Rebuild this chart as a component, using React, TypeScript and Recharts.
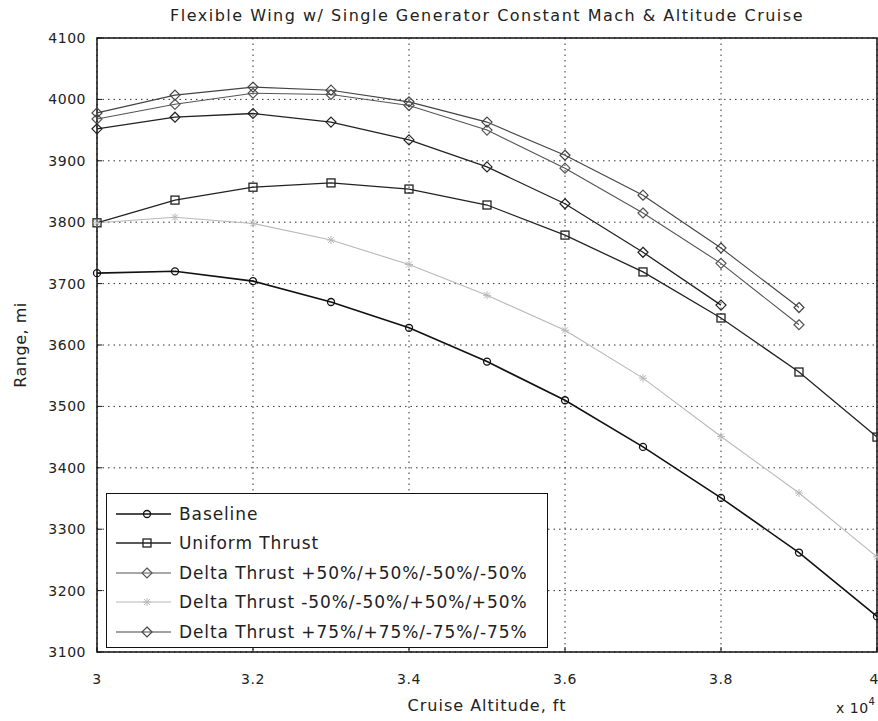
import React from 'react';
import { LineChart, Line, XAxis, YAxis, CartesianGrid, Legend, ReferenceArea } from 'recharts';

// cruise altitude in units of 10^4 ft
const altitude = [3.0, 3.1, 3.2, 3.3, 3.4, 3.5, 3.6, 3.7, 3.8, 3.9, 4.0];

// range, mi
const baseline = [3717, 3720, 3704, 3670, 3628, 3573, 3510, 3434, 3351, 3262, 3158];
const uniformThrust = [3799, 3836, 3857, 3864, 3854, 3828, 3779, 3719, 3644, 3556, 3450];
const deltaPlus50 = [3968, 3992, 4010, 4008, 3990, 3950, 3888, 3815, 3733, 3633, null];
const deltaMinus50 = [3799, 3808, 3798, 3771, 3731, 3681, 3624, 3546, 3451, 3359, 3255];
const deltaPlus75 = [3978, 4007, 4020, 4015, 3996, 3963, 3909, 3844, 3758, 3661, null];
const extraCase = [3952, 3971, 3977, 3963, 3934, 3890, 3830, 3751, 3665, null, null];

const rangeTicks = [3100, 3200, 3300, 3400, 3500, 3600, 3700, 3800, 3900, 4000, 4100];
const altitudeTicks = [3, 3.2, 3.4, 3.6, 3.8, 4];

const data = altitude.map((alt, i) => ({
    alt,
    baseline: baseline[i],
    uniform: uniformThrust[i],
    dp50: deltaPlus50[i],
    dm50: deltaMinus50[i],
    dp75: deltaPlus75[i],
    extra: extraCase[i],
}));

const FONT = '"DejaVu Sans", sans-serif';

type Shape = 'circle' | 'square' | 'diamond' | 'star';

const marker = (shape: Shape, x: number, y: number, color: string, key?: string) => {
    if (shape === 'circle') return <circle key={key} cx={x} cy={y} r={3.5} fill="none" stroke={color} strokeWidth={1.3} />;
    if (shape === 'square') return <rect key={key} x={x - 4} y={y - 4} width={8} height={8} fill="none" stroke={color} strokeWidth={1.3} />;
    if (shape === 'diamond')
        return <path key={key} d={`M${x},${y - 5}L${x + 5},${y}L${x},${y + 5}L${x - 5},${y}Z`} fill="none" stroke={color} strokeWidth={1.2} />;
    return (
        <path key={key} d={`M${x - 4},${y}L${x + 4},${y}M${x},${y - 4}L${x},${y + 4}M${x - 3},${y - 3}L${x + 3},${y + 3}M${x - 3},${y + 3}L${x + 3},${y - 3}`} stroke={color} strokeWidth={1} />
    );
};

const dotOf = (shape: Shape, color: string) => (p: any) => {
    const key = `d-${p.dataKey}-${p.index}`;
    if (p.cy == null || p.value == null || isNaN(p.cy)) return <g key={key} />;
    return marker(shape, p.cx, p.cy, color, key);
};

const series = [
    { key: 'baseline', name: 'Baseline', color: '#111', width: 1.6, shape: 'circle' as Shape },
    { key: 'uniform', name: 'Uniform Thrust', color: '#222', width: 1.3, shape: 'square' as Shape },
    { key: 'dp50', name: 'Delta Thrust +50%/+50%/-50%/-50%', color: '#555', width: 1.1, shape: 'diamond' as Shape },
    { key: 'dm50', name: 'Delta Thrust -50%/-50%/+50%/+50%', color: '#b8b8b8', width: 1.1, shape: 'star' as Shape },
    { key: 'dp75', name: 'Delta Thrust +75%/+75%/-75%/-75%', color: '#444', width: 1.1, shape: 'diamond' as Shape },
];

const renderLegend = (props: any) => {
    const shown = new Set((props.payload || []).map((e: any) => e.dataKey));
    const items = series.filter((s) => shown.size === 0 || shown.has(s.key));
    return (
        <div
            style={{
                width: 442,
                height: 155,
                boxSizing: 'border-box',
                border: '1.5px solid #111',
                background: '#fff',
                paddingTop: 5,
            }}
        >
            {items.map((s) => (
                <div key={s.key} style={{ height: 29.5, display: 'flex', alignItems: 'center' }}>
                    <svg width={72} height={20} style={{ flex: 'none' }}>
                        <line x1={9} x2={64} y1={10} y2={10} stroke={s.color} strokeWidth={s.width} />
                        {marker(s.shape, 40, 10, s.color)}
                    </svg>
                    <span style={{ fontFamily: FONT, fontSize: 17, letterSpacing: 0.9, color: '#222', whiteSpace: 'nowrap' }}>
                        {s.name}
                    </span>
                </div>
            ))}
        </div>
    );
};

const tickStyle = { fontFamily: FONT, fontSize: 14, fill: '#222', letterSpacing: 0.5 };

export default function App() {
    return (
        <div style={{ position: 'absolute', left: 0, top: 0, width: 878, height: 721, background: '#fff' }}>
            <LineChart width={878} height={721} data={data} margin={{ top: 38, right: 1, bottom: 0, left: 0 }}>
                <CartesianGrid stroke="#333" strokeDasharray="1.5 4" />
                <XAxis
                    dataKey="alt"
                    type="number"
                    domain={[3, 4]}
                    ticks={altitudeTicks}
                    height={69}
                    axisLine={false}
                    tickSize={-5}
                    tickMargin={27}
                    tickLine={{ stroke: '#111' }}
                    tick={tickStyle}
                />
                <YAxis
                    type="number"
                    domain={[3100, 4100]}
                    ticks={rangeTicks}
                    width={97}
                    axisLine={false}
                    tickSize={-5}
                    tickMargin={16}
                    tickLine={{ stroke: '#111' }}
                    tick={tickStyle}
                />
                <ReferenceArea x1={3} x2={4} y1={3100} y2={4100} fill="none" fillOpacity={0} stroke="#111" strokeWidth={1.5} />
                <Legend
                    layout="vertical"
                    align="center"
                    verticalAlign="middle"
                    content={renderLegend}
                    wrapperStyle={{ position: 'absolute', left: 106, top: 493, width: 442, height: 155 }}
                />
                {series.map((s) => (
                    <Line
                        key={s.key}
                        dataKey={s.key}
                        name={s.name}
                        type="linear"
                        stroke={s.color}
                        strokeWidth={s.width}
                        dot={dotOf(s.shape, s.color)}
                        activeDot={false}
                        isAnimationActive={false}
                    />
                ))}
                <Line
                    dataKey="extra"
                    name="extra"
                    type="linear"
                    stroke="#222"
                    strokeWidth={1.3}
                    legendType="none"
                    dot={dotOf('diamond', '#222')}
                    activeDot={false}
                    isAnimationActive={false}
                />
            </LineChart>
            <div
                style={{
                    position: 'absolute',
                    left: 487,
                    top: 6,
                    transform: 'translateX(-50%)',
                    fontFamily: FONT,
                    fontSize: 16,
                    letterSpacing: 1.5,
                    color: '#222',
                    whiteSpace: 'nowrap',
                }}
            >
                Flexible Wing w/ Single Generator Constant Mach &amp; Altitude Cruise
            </div>
            <div
                style={{
                    position: 'absolute',
                    left: 20,
                    top: 345,
                    transform: 'translate(-50%, -50%) rotate(-90deg)',
                    fontFamily: FONT,
                    fontSize: 16,
                    letterSpacing: 0.5,
                    color: '#222',
                    whiteSpace: 'nowrap',
                }}
            >
                Range, mi
            </div>
            <div
                style={{
                    position: 'absolute',
                    left: 487,
                    top: 696,
                    transform: 'translateX(-50%)',
                    fontFamily: FONT,
                    fontSize: 16,
                    letterSpacing: 1,
                    color: '#222',
                    whiteSpace: 'nowrap',
                }}
            >
                Cruise Altitude, ft
            </div>
            <div
                style={{
                    position: 'absolute',
                    left: 836,
                    top: 698,
                    fontFamily: FONT,
                    fontSize: 14,
                    letterSpacing: 0.5,
                    color: '#222',
                    whiteSpace: 'nowrap',
                }}
            >
                x 10<sup style={{ fontSize: 10, position: 'relative', top: -2 }}>4</sup>
            </div>
        </div>
    );
}
